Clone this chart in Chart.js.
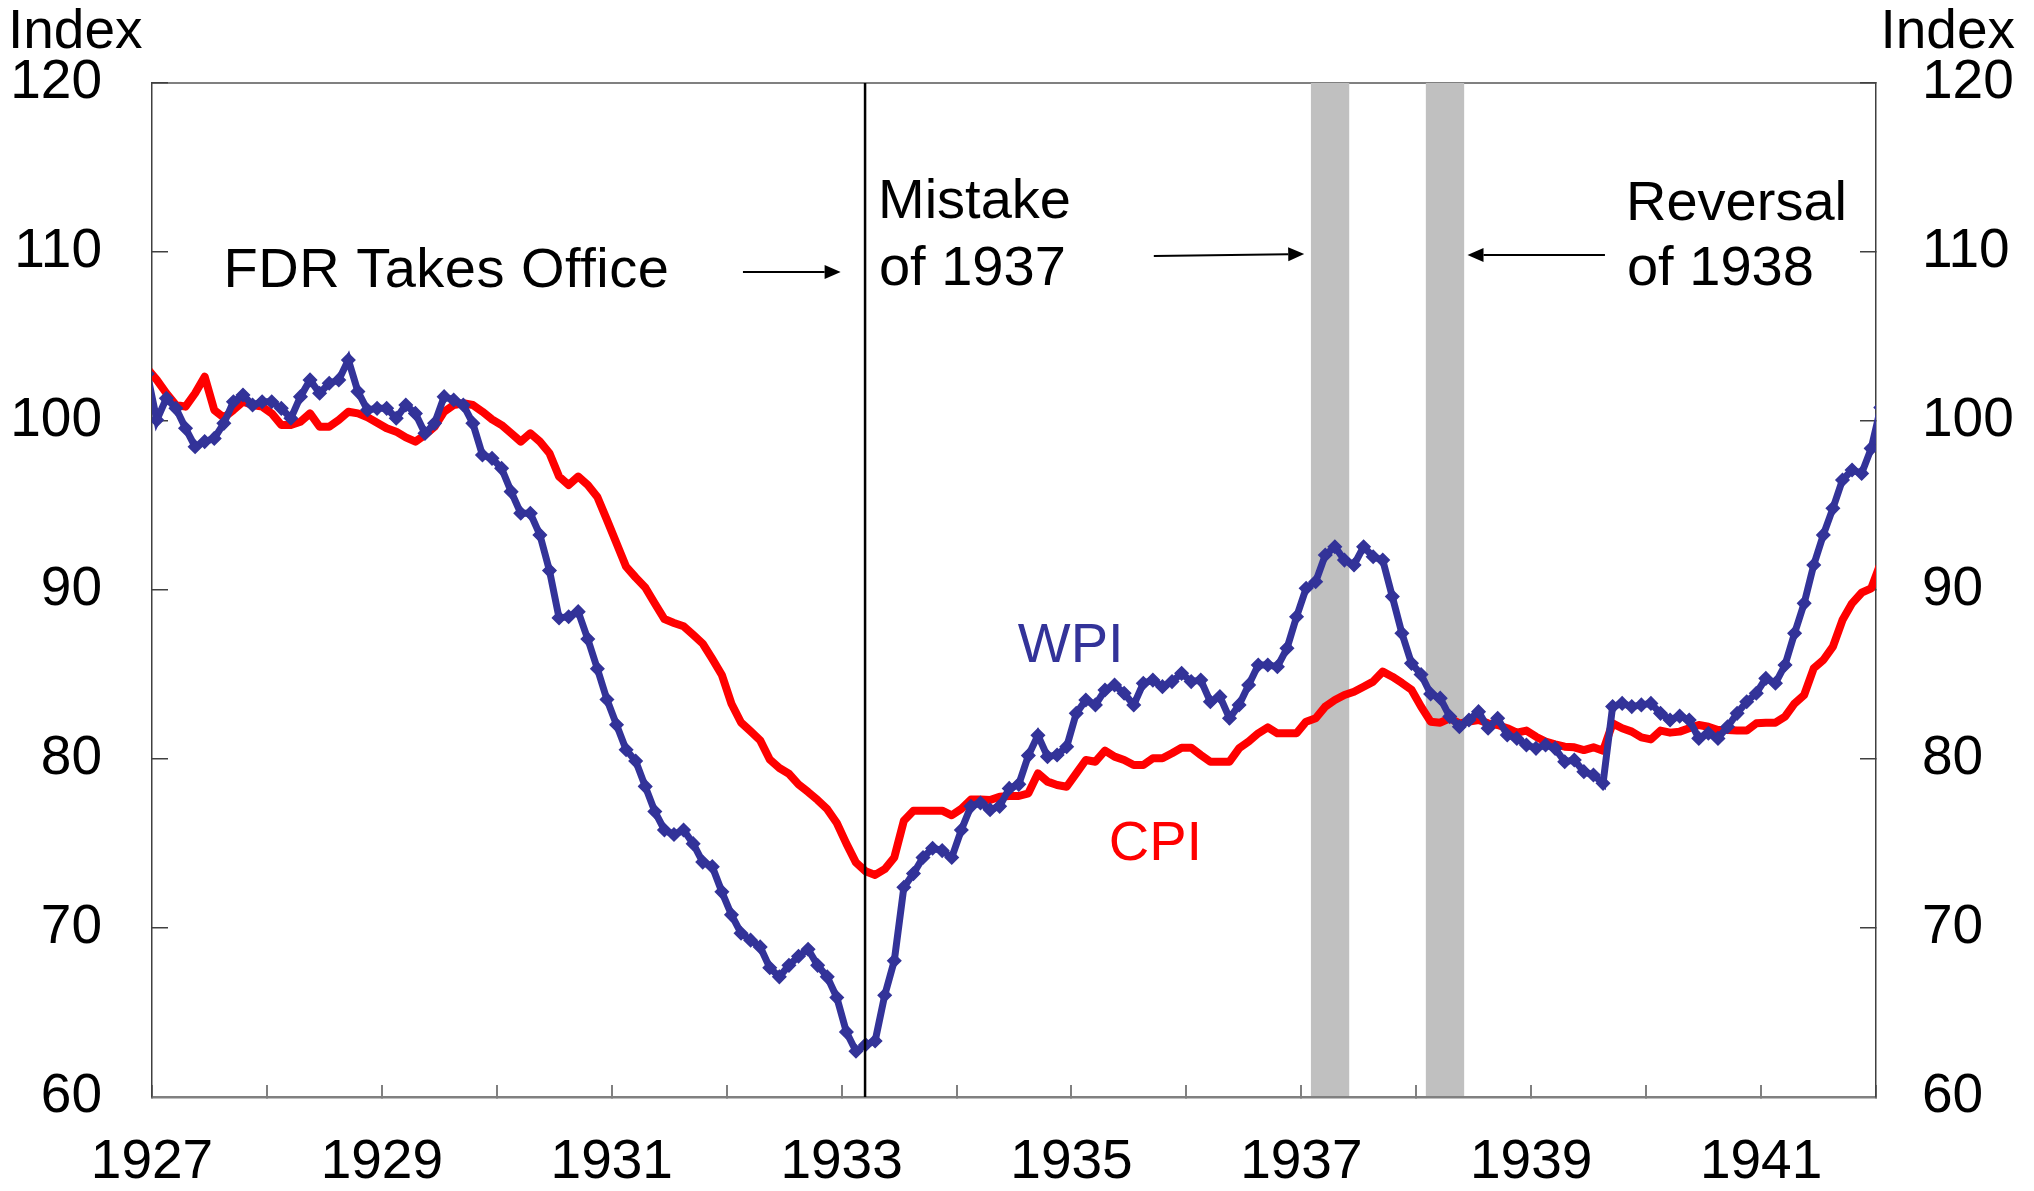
<!DOCTYPE html>
<html>
<head>
<meta charset="utf-8">
<script src="https://cdn.jsdelivr.net/npm/chart.js@4/dist/chart.umd.min.js"></script>
<style>
  html, body { margin: 0; padding: 0; background: #fff; }
  canvas { display: block; }
</style>
</head>
<body>
<canvas id="priceChart" width="2034" height="1191"></canvas>
<script>
// monthly values, Dec 1926 .. Jan 1942 (first and last sit just outside the axis range)
const yearLabels = ['1927', '', '1929', '', '1931', '', '1933', '', '1935', '', '1937', '', '1939', '', '1941', '']

const wpi = [
  102.8,
  100.06, 101.34, 100.75, 99.57, 98.48, 98.78, 98.97, 99.86, 101.14, 101.54,
  100.95, 101.14, 101.14, 100.75, 100.16, 101.44, 102.43, 101.64, 102.23, 102.43,
  103.61, 101.74, 100.65, 100.75, 100.75, 100.16, 100.95, 100.45, 99.27, 99.86,
  101.44, 101.24, 100.95, 99.86, 97.99, 97.79, 97.2, 95.82, 94.54, 94.54,
  93.26, 91.15, 88.35, 88.42, 88.72, 87.1, 85.34, 83.52, 82.03, 80.55,
  79.88, 78.38, 76.89, 75.8, 75.53, 75.8, 74.99, 73.9, 73.63, 72.14,
  70.78, 69.69, 69.28, 68.88, 67.65, 67.11, 67.79, 68.33, 68.74, 67.79,
  67.11, 65.89, 63.85, 62.71, 63.09, 63.31, 66.02, 68.06, 72.41, 73.22,
  74.17, 74.72, 74.58, 74.17, 75.8, 77.2, 77.4, 77.0, 77.2, 78.26,
  78.5, 80.2, 81.4, 80.14, 80.24, 80.73, 82.7, 83.49, 83.2, 84.08,
  84.38, 83.89, 83.2, 84.48, 84.67, 84.28, 84.58, 85.07, 84.58, 84.67,
  83.39, 83.69, 82.41, 83.2, 84.38, 85.56, 85.56, 85.46, 86.55, 88.42,
  90.1, 90.49, 92.07, 92.56, 91.77, 91.48, 92.56, 91.97, 91.77, 89.61,
  87.44, 85.66, 85.0, 83.85, 83.6, 82.51, 81.91, 82.31, 82.8, 81.82,
  82.41, 81.42, 81.22, 80.83, 80.63, 80.83, 80.63, 79.84, 79.94, 79.25,
  79.05, 78.56, 83.1, 83.29, 83.1, 83.2, 83.29, 82.7, 82.31, 82.54,
  82.31, 81.22, 81.52, 81.22, 81.91, 82.7, 83.39, 83.89, 84.77, 84.48,
  85.56, 87.44, 89.21, 91.48, 93.26, 94.83, 96.51, 97.1, 96.9, 98.38, 100.8
]

const cpi = [
  103.1,
  102.43, 101.64, 100.95, 100.85, 101.64, 102.62, 100.65, 100.2, 100.65, 101.14,
  100.95, 100.85, 100.45, 99.76, 99.76, 99.96, 100.45, 99.66, 99.66, 100.06,
  100.55, 100.45, 100.22, 99.9, 99.57, 99.37, 99.03, 98.78, 99.17, 99.66,
  100.55, 100.95, 101.05, 100.95, 100.55, 100.1, 99.76, 99.27, 98.78, 99.27,
  98.78, 98.09, 96.71, 96.21, 96.71, 96.21, 95.5, 94.15, 92.77, 91.38,
  90.74, 90.15, 89.2, 88.28, 88.05, 87.85, 87.35, 86.83, 85.92, 84.97,
  83.27, 82.16, 81.64, 81.1, 79.97, 79.47, 79.13, 78.5, 78.05, 77.57,
  77.03, 76.21, 74.99, 73.87, 73.36, 73.14, 73.48, 74.17, 76.35, 76.94,
  76.94, 76.94, 76.94, 76.67, 77.05, 77.6, 77.6, 77.57, 77.77, 77.81,
  77.81, 77.97, 79.15, 78.66, 78.46, 78.36, 79.15, 79.94, 79.84, 80.5,
  80.14, 79.94, 79.64, 79.64, 80.04, 80.04, 80.34, 80.67, 80.67, 80.24,
  79.84, 79.84, 79.84, 80.63, 81.03, 81.52, 81.87, 81.52, 81.52, 81.52,
  82.21, 82.41, 83.1, 83.49, 83.79, 83.98, 84.28, 84.58, 85.17, 84.87,
  84.5, 84.1, 83.1, 82.21, 82.15, 82.41, 82.11, 82.21, 82.31, 82.11,
  82.01, 81.82, 81.56, 81.68, 81.32, 81.03, 80.87, 80.73, 80.69, 80.53,
  80.69, 80.49, 82.11, 81.82, 81.62, 81.28, 81.16, 81.68, 81.56, 81.62,
  81.82, 82.01, 81.91, 81.72, 81.72, 81.68, 81.68, 82.11, 82.15, 82.15,
  82.51, 83.29, 83.79, 85.37, 85.86, 86.65, 88.22, 89.21, 89.84, 90.1, 91.6
]

// shaded periods, in months since Jan 1927
const recessionBands = [[121, 125], [133, 137]]
const fdrMonth = 74.45

const FONT = '"Liberation Sans", Arial, Helvetica, sans-serif'

// month index -> x value (points sit mid-month, first entry is Dec 1926)
const toPoints = arr => arr.map((v, i) => ({ x: i - 0.5, y: v }))

function drawArrow(ctx, x0, y0, x1, y1) {
  const ang = Math.atan2(y1 - y0, x1 - x0)
  const len = 16, half = 7
  const c = Math.cos(ang), s = Math.sin(ang)
  ctx.beginPath()
  ctx.moveTo(x0, y0)
  ctx.lineTo(x1 - len * c, y1 - len * s)
  ctx.stroke()
  ctx.beginPath()
  ctx.moveTo(x1, y1)
  ctx.lineTo(x1 - len * c - half * s, y1 - len * s + half * c)
  ctx.lineTo(x1 - len * c + half * s, y1 - len * s - half * c)
  ctx.closePath()
  ctx.fill()
}

const annotations = {
  id: 'annotations',
  beforeDraw(chart) {
    const { ctx, chartArea: a, scales: { x } } = chart
    ctx.save()
    // top frame line
    ctx.strokeStyle = '#808080'
    ctx.lineWidth = 2
    ctx.beginPath()
    ctx.moveTo(a.left, a.top)
    ctx.lineTo(a.right, a.top)
    ctx.stroke()
    ctx.fillStyle = '#c0c0c0'
    recessionBands.forEach(([s, e]) => {
      const x0 = x.getPixelForValue(s)
      const x1 = x.getPixelForValue(e)
      ctx.fillRect(x0, a.top, x1 - x0, a.bottom - a.top)
    })
    ctx.restore()
  },
  afterDatasetsDraw(chart) {
    const { ctx, chartArea: a, scales: { x, y, y2 } } = chart
    const px = v => x.getPixelForValue(v)
    const py = v => y.getPixelForValue(v)
    ctx.save()

    // FDR line
    ctx.strokeStyle = '#000'
    ctx.lineWidth = 2.5
    ctx.beginPath()
    ctx.moveTo(px(fdrMonth), a.top)
    ctx.lineTo(px(fdrMonth), a.bottom)
    ctx.stroke()

    ctx.font = '56px ' + FONT
    ctx.textBaseline = 'alphabetic'
    ctx.fillStyle = '#000'
    ctx.textAlign = 'left'
    ctx.letterSpacing = '0.5px'
    ctx.fillText('FDR Takes Office', px(7.47), py(107.93))
    ctx.letterSpacing = '0px'
    ctx.fillText('Mistake', px(75.8), py(112.0))
    ctx.fillText('of 1937', px(75.9), py(108.05))
    ctx.fillText('Reversal', px(153.9), py(111.9))
    ctx.fillText('of 1938', px(154.0), py(108.05))

    ctx.lineWidth = 2
    drawArrow(ctx, px(61.7), py(108.82), px(71.9), py(108.82))
    drawArrow(ctx, px(104.6), py(109.76), px(120.3), py(109.88))
    drawArrow(ctx, px(151.7), py(109.82), px(137.35), py(109.82))

    ctx.fillStyle = '#333399'
    ctx.fillText('WPI', px(90.4), py(85.74))
    ctx.fillStyle = '#ff0000'
    ctx.fillText('CPI', px(99.9), py(74.02))

    // axis captions
    ctx.font = '55px ' + FONT
    ctx.fillStyle = '#000'
    ctx.fillText('Index', y.left + 8, a.top - 35)
    ctx.textAlign = 'right'
    ctx.fillText('Index', y2.right - 19, a.top - 35)
    ctx.restore()
  }
}

Chart.defaults.font.family = FONT
Chart.defaults.font.size = 55
Chart.defaults.color = '#000'

// fixed box sizes so the plot area lands where the original has it
const fixBox = (w, h) => s => {
  if (w !== null) s.width = w
  if (h !== null) s.height = h
  s.paddingTop = 0
  s.paddingBottom = 0
  s.paddingLeft = 0
  s.paddingRight = 0
}

new Chart(document.getElementById('priceChart'), {
  type: 'line',
  data: {
    datasets: [
      {
        label: 'WPI',
        data: toPoints(wpi),
        borderColor: '#333399',
        backgroundColor: '#333399',
        borderWidth: 7,
        pointStyle: 'rectRot',
        pointRadius: 6.5,
        pointBorderWidth: 1.5,
        pointBackgroundColor: '#333399',
        pointBorderColor: '#333399',
        tension: 0
      },
      {
        label: 'CPI',
        data: toPoints(cpi),
        borderColor: '#ff0000',
        borderWidth: 8,
        pointRadius: 0,
        tension: 0,
        borderJoinStyle: 'round'
      }
    ]
  },
  options: {
    responsive: false,
    animation: false,
    layout: { padding: { top: 83, left: 0, right: 0, bottom: 0 } },
    plugins: {
      legend: { display: false },
      tooltip: { enabled: false }
    },
    scales: {
      x: {
        type: 'linear',
        min: 0,
        max: 180,
        ticks: {
          stepSize: 12,
          autoSkip: false,
          maxRotation: 0,
          padding: 44.5,
          callback: v => yearLabels[v / 12] ?? ''
        },
        grid: { drawOnChartArea: false, tickLength: -12, color: '#808080', lineWidth: 2 },
        border: { color: '#808080', width: 2.5 },
        afterFit: fixBox(null, 94)
      },
      y: {
        position: 'left',
        min: 60,
        max: 120,
        ticks: { stepSize: 10, padding: 66 },
        grid: { drawOnChartArea: false, tickLength: -16, color: '#404040', lineWidth: 1.5 },
        border: { color: '#404040', width: 1.5 },
        afterFit: fixBox(152, null)
      },
      y2: {
        position: 'right',
        min: 60,
        max: 120,
        ticks: { stepSize: 10, padding: 62 },
        grid: { drawOnChartArea: false, tickLength: -16, color: '#404040', lineWidth: 1.5 },
        border: { color: '#404040', width: 1.5 },
        afterFit: fixBox(158, null)
      }
    }
  },
  plugins: [annotations]
})
</script>
</body>
</html>
